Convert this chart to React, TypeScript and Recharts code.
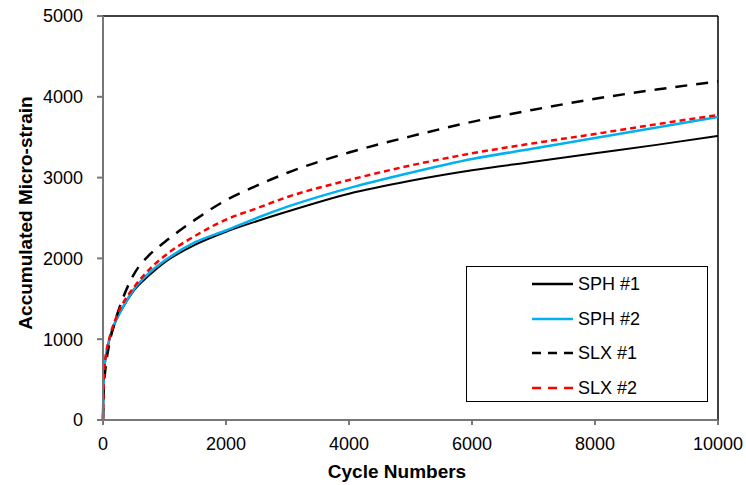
import React from 'react';
import { LineChart, Line, XAxis, YAxis, ReferenceLine, Legend } from 'recharts';

const cycles = [0, 10, 25, 50, 100, 200, 300, 500, 750, 1000, 1500, 2000, 2500, 3000, 4000, 5000, 6000, 7000, 8000, 9000, 10000];

// accumulated micro-strain per specimen
const sph1 = [0, 450, 650, 800, 980, 1210, 1360, 1600, 1790, 1950, 2170, 2330, 2460, 2580, 2800, 2960, 3090, 3195, 3300, 3405, 3515];
const sph2 = [0, 450, 660, 810, 990, 1215, 1365, 1615, 1820, 1970, 2200, 2345, 2500, 2640, 2870, 3060, 3230, 3360, 3490, 3620, 3750];
const slx1 = [0, 350, 520, 700, 930, 1230, 1460, 1800, 2040, 2200, 2480, 2720, 2900, 3060, 3310, 3510, 3690, 3840, 3975, 4090, 4190];
const slx2 = [0, 450, 660, 820, 1000, 1240, 1410, 1640, 1860, 2030, 2280, 2480, 2620, 2760, 2970, 3150, 3300, 3425, 3540, 3660, 3775];

const xTicks = [0, 2000, 4000, 6000, 8000, 10000];
const yTicks = [0, 1000, 2000, 3000, 4000, 5000];

const SERIES = [
  { key: 'sph1', name: 'SPH #1', color: '#000000', width: 2, dash: undefined, legendDash: undefined },
  { key: 'sph2', name: 'SPH #2', color: '#00B0F0', width: 2.5, dash: undefined, legendDash: undefined },
  { key: 'slx1', name: 'SLX #1', color: '#000000', width: 2.5, dash: '12 9', legendDash: '9 7' },
  { key: 'slx2', name: 'SLX #2', color: '#FF0000', width: 2.5, dash: '6 4', legendDash: '9 7' },
];

const data = cycles.map((c, i) => ({
  cycle: c,
  sph1: sph1[i],
  sph2: sph2[i],
  slx1: slx1[i],
  slx2: slx2[i],
}));

const FONT = '"Liberation Sans", Arial, sans-serif';
const AXIS_GRAY = '#777777';

const LegendBox = () => (
  <div
    style={{
      width: 242,
      height: 136,
      boxSizing: 'border-box',
      border: '1.5px solid #000',
      background: '#fff',
      position: 'relative',
      fontFamily: FONT,
      fontSize: 18,
      color: '#000',
    }}
  >
    {SERIES.map((s, i) => (
      <div key={s.key} style={{ position: 'absolute', left: 0, top: 17 + i * 34.5 - 12, height: 24, width: '100%' }}>
        <svg width={44} height={24} style={{ position: 'absolute', left: 64, top: 0 }}>
          <line x1={1} y1={12} x2={42} y2={12} stroke={s.color} strokeWidth={2.5} strokeDasharray={s.legendDash} />
        </svg>
        <span style={{ position: 'absolute', left: 111, top: 1, lineHeight: '22px', whiteSpace: 'nowrap' }}>{s.name}</span>
      </div>
    ))}
  </div>
);

export default function App() {
  return (
    <div style={{ width: 746, height: 485, background: '#fff' }}>
      <style>{`body{margin:0}`}</style>
      <LineChart width={746} height={485} data={data} margin={{ top: 16, right: 28, left: 0, bottom: 0 }}>
        <XAxis
          dataKey="cycle"
          type="number"
          domain={[0, 10000]}
          ticks={xTicks}
          height={65}
          stroke={AXIS_GRAY}
          strokeWidth={2}
          tickSize={5}
          tickMargin={12}
          tick={{ fill: '#000', fontSize: 18, fontFamily: FONT }}
          label={{
            content: () => (
              <text x={397} y={478} textAnchor="middle" fontFamily={FONT} fontSize={19} fontWeight="bold" fill="#000">
                Cycle Numbers
              </text>
            ),
          }}
        />
        <YAxis
          type="number"
          domain={[0, 5000]}
          ticks={yTicks}
          width={103}
          stroke={AXIS_GRAY}
          strokeWidth={2}
          tickSize={6}
          tickMargin={14}
          tick={{ fill: '#000', fontSize: 18, fontFamily: FONT }}
          label={{
            content: () => (
              <text
                x={32}
                y={213}
                transform="rotate(-90 32 213)"
                textAnchor="middle"
                fontFamily={FONT}
                fontSize={19}
                fontWeight="bold"
                fill="#000"
              >
                Accumulated Micro-strain
              </text>
            ),
          }}
        />
        <ReferenceLine y={5000} stroke="#000" strokeWidth={1.5} />
        <ReferenceLine x={10000} stroke="#000" strokeWidth={1.5} />
        {SERIES.map((s) => (
          <Line
            key={s.key}
            type="monotone"
            dataKey={s.key}
            name={s.name}
            stroke={s.color}
            strokeWidth={s.width}
            strokeDasharray={s.dash}
            dot={false}
            activeDot={false}
            isAnimationActive={false}
          />
        ))}
        <Legend
          layout="vertical"
          align="center"
          verticalAlign="middle"
          content={() => <LegendBox />}
          wrapperStyle={{ left: 466, top: 266, width: 242, height: 136, margin: 0 }}
        />
      </LineChart>
    </div>
  );
}
